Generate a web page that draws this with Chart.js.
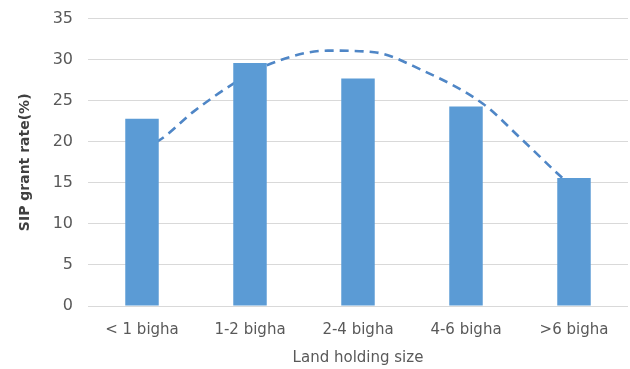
<!DOCTYPE html>
<html>
<head>
<meta charset="utf-8">
<script src="https://cdn.jsdelivr.net/npm/chart.js@4/dist/chart.umd.min.js"></script>
<style>
  html, body { margin: 0; padding: 0; background: #fff; overflow: hidden; }
  #wrap { width: 630px; height: 375px; position: relative; margin-top: -6px; }
</style>
</head>
<body>
<div id="wrap"><canvas id="chart"></canvas></div>
<script>
// --- Data
const categories = ["< 1 bigha", "1-2 bigha", "2-4 bigha", "4-6 bigha", ">6 bigha"];
const grantRate = [22.8, 29.6, 27.7, 24.3, 15.6];

// dashed trend curve, x = category index (0 = first bar)
const trendX = [0, 0.15, 0.48, 0.85, 1.19, 1.72, 2.15, 2.58, 3.16, 3.5, 3.85, 4];
const trendY = [19.4, 20.1, 23.7, 27.1, 29.5, 31.1, 30.9, 28.8, 24.6, 20.5, 16.1, 14.3];

const yTicks = [0, 5, 10, 15, 20, 25, 30, 35];

const textColor = "#595959";
const barColor = "#5b9bd5";
const trendColor = "#4f86c6";
const fontFamily = "'DejaVu Sans', sans-serif";

new Chart(document.getElementById("chart"), {
  type: "bar",
  data: {
    datasets: [
      {
        type: "bar",
        label: "SIP grant rate",
        data: grantRate.map((v, i) => ({ x: i, y: v })),
        backgroundColor: barColor,
        barPercentage: 0.31,
        categoryPercentage: 1,
        order: 1
      },
      {
        type: "line",
        label: "Trend",
        data: trendX.map((x, i) => ({ x: x, y: trendY[i] })),
        borderColor: trendColor,
        borderWidth: 2.6,
        borderDash: [9, 6],
        pointRadius: 0,
        fill: false,
        tension: 0.4,
        cubicInterpolationMode: "monotone",
        order: 2
      }
    ]
  },
  options: {
    responsive: true,
    maintainAspectRatio: false,
    animation: false,
    layout: { padding: { left: 16, right: 2, top: 0, bottom: 2 } },
    plugins: {
      legend: { display: false },
      tooltip: { enabled: false }
    },
    scales: {
      x: {
        type: "linear",
        min: -0.5,
        max: 4.5,
        offset: false,
        afterBuildTicks: s => { s.ticks = categories.map((c, i) => ({ value: i })); },
        grid: { display: false },
        border: { display: false },
        ticks: {
          color: textColor,
          font: { family: fontFamily, size: 15 },
          padding: 7,
          autoSkip: false,
          maxRotation: 0,
          callback: v => categories[v]
        },
        title: {
          display: true,
          text: "Land holding size",
          color: textColor,
          font: { family: fontFamily, size: 15 },
          padding: { top: 5, bottom: 0 }
        },
        afterFit: s => { s.height = 61; }
      },
      y: {
        min: 0,
        max: 35,
        afterBuildTicks: s => { s.ticks = yTicks.map(v => ({ value: v })); },
        grid: { color: "#d9d9d9", lineWidth: 1, drawTicks: false },
        border: { display: false },
        ticks: { color: textColor, font: { family: fontFamily, size: 16 }, padding: 15 },
        title: {
          display: true,
          text: "SIP grant rate(%)",
          color: "#404040",
          font: { family: fontFamily, size: 14, weight: "bold" },
          padding: { top: 1, bottom: 0 }
        },
        afterFit: s => { s.width = 72; }
      }
    }
  }
});
</script>
</body>
</html>
